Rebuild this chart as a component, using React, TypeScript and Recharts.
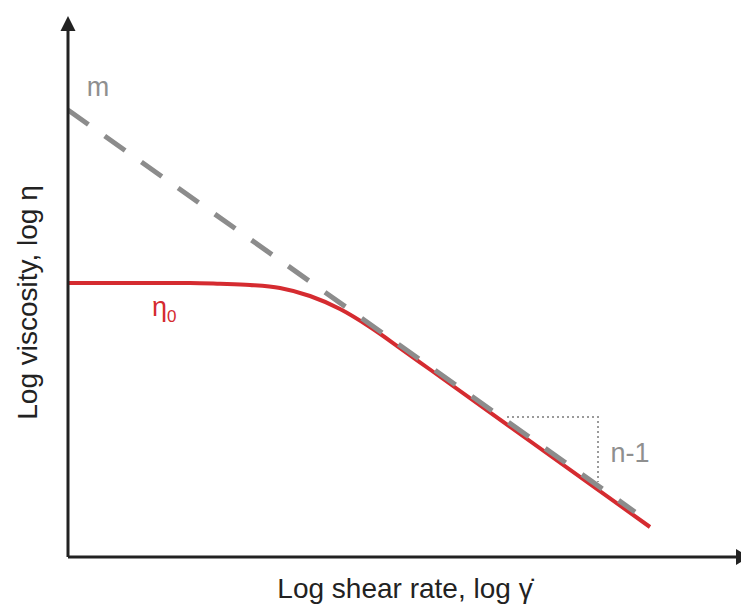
import React from 'react';
import { LineChart, Line, XAxis, YAxis, ReferenceDot } from 'recharts';

// Values in chart units (x: log shear rate, y: log viscosity)
const X_MAX = 670;
const Y_MAX = 527;

const powerLawAsymptote = [
  { x: 0, y: 447 },
  { x: 567, y: 45 },
];

const viscosityCurve = [
  { x: 0, y: 274 },
  { x: 122, y: 274 },
  { x: 152, y: 273.2 },
  { x: 182, y: 272 },
  { x: 212, y: 269 },
  { x: 242, y: 261 },
  { x: 272, y: 248 },
  { x: 302, y: 230 },
  { x: 332, y: 209 },
  { x: 362, y: 187.5 },
  { x: 582, y: 30 },
];

const slopeTriangle = [
  { x: 439, y: 140 },
  { x: 530, y: 140 },
  { x: 530, y: 75 },
];

const annotations = [
  { key: 'm', x: 30, y: 470, text: 'm', color: '#8f8f8f' },
  { key: 'n', x: 562, y: 104, text: 'n-1', color: '#8f8f8f' },
];
const eta0Pos = { x: 99, y: 247 };

const xTitle = 'Log shear rate, log γ̇';
const yTitle = 'Log viscosity, log η';

const FONT = '"Liberation Sans", Arial, Helvetica, sans-serif';
const AXIS = '#222222';
const RED = '#d52b30';
const GREY = '#8c8c8c';

const RightArrow = (p: any) => (
  <polygon
    points={`${p.cx + 11},${p.cy} ${p.cx - 2},${p.cy - 8} ${p.cx - 2},${p.cy + 8}`}
    fill={AXIS}
  />
);
const UpArrow = (p: any) => (
  <polygon
    points={`${p.cx},${p.cy - 14} ${p.cx - 7.5},${p.cy + 1} ${p.cx + 7.5},${p.cy + 1}`}
    fill={AXIS}
  />
);

const YTitle = (props: any) => {
  const vb = props.viewBox || { x: 0, y: 22, width: 60, height: 527 };
  const cx = vb.x + 29;
  const cy = vb.y + vb.height / 2 + 9;
  return (
    <text
      x={cx}
      y={cy}
      transform={`rotate(-90, ${cx}, ${cy})`}
      textAnchor="middle"
      fontSize={28}
      fill={AXIS}
      fontFamily={FONT}
    >
      {yTitle}
    </text>
  );
};

const XTitle = (props: any) => {
  const vb = props.viewBox || { x: 60, y: 549, width: 670, height: 47 };
  const cx = vb.x + vb.width / 2 + 2;
  const cy = vb.y + 41;
  return (
    <text x={cx} y={cy} textAnchor="middle" fontSize={28} fill={AXIS} fontFamily={FONT}>
      {xTitle}
    </text>
  );
};

export default function App() {
  return (
    <div style={{ width: 741, height: 596, fontFamily: FONT }}>
      <LineChart
        width={741}
        height={596}
        margin={{ top: 22, right: 11, bottom: 0, left: 0 }}
      >
        <XAxis
          type="number"
          dataKey="x"
          domain={[0, X_MAX]}
          allowDataOverflow
          tick={false}
          tickLine={false}
          height={47}
          axisLine={{ stroke: AXIS, strokeWidth: 3 }}
          label={<XTitle />}
        />
        <YAxis
          type="number"
          dataKey="y"
          domain={[0, Y_MAX]}
          allowDataOverflow
          tick={false}
          tickLine={false}
          width={60}
          axisLine={{ stroke: AXIS, strokeWidth: 3 }}
          label={<YTitle />}
        />
        <Line
          data={slopeTriangle}
          dataKey="y"
          type="linear"
          stroke="#9a9a9a"
          strokeWidth={2}
          strokeDasharray="2 3"
          dot={false}
          isAnimationActive={false}
        />
        <Line
          data={viscosityCurve}
          dataKey="y"
          type="monotone"
          stroke={RED}
          strokeWidth={4}
          dot={false}
          isAnimationActive={false}
        />
        <Line
          data={powerLawAsymptote}
          dataKey="y"
          type="linear"
          stroke={GREY}
          strokeWidth={5}
          strokeDasharray="25 20"
          dot={false}
          isAnimationActive={false}
        />
        {annotations.map((a) => (
          <ReferenceDot
            key={a.key}
            x={a.x}
            y={a.y}
            r={0}
            ifOverflow="visible"
            shape={(p: any) => (
              <text
                x={p.cx}
                y={p.cy}
                textAnchor="middle"
                dominantBaseline="central"
                fontSize={27}
                fill={a.color}
                fontFamily={FONT}
              >
                {a.text}
              </text>
            )}
          />
        ))}
        <ReferenceDot
          x={eta0Pos.x}
          y={eta0Pos.y}
          r={0}
          ifOverflow="visible"
          shape={(p: any) => (
            <text
              x={p.cx - 15}
              y={p.cy + 6}
              fontSize={27}
              fill={RED}
              fontFamily={FONT}
            >
              η
              <tspan fontSize={17} dy={6}>0</tspan>
            </text>
          )}
        />
        <ReferenceDot x={X_MAX} y={0} r={0} ifOverflow="visible" shape={RightArrow} />
        <ReferenceDot x={0} y={Y_MAX} r={0} ifOverflow="visible" shape={UpArrow} />
      </LineChart>
    </div>
  );
}
